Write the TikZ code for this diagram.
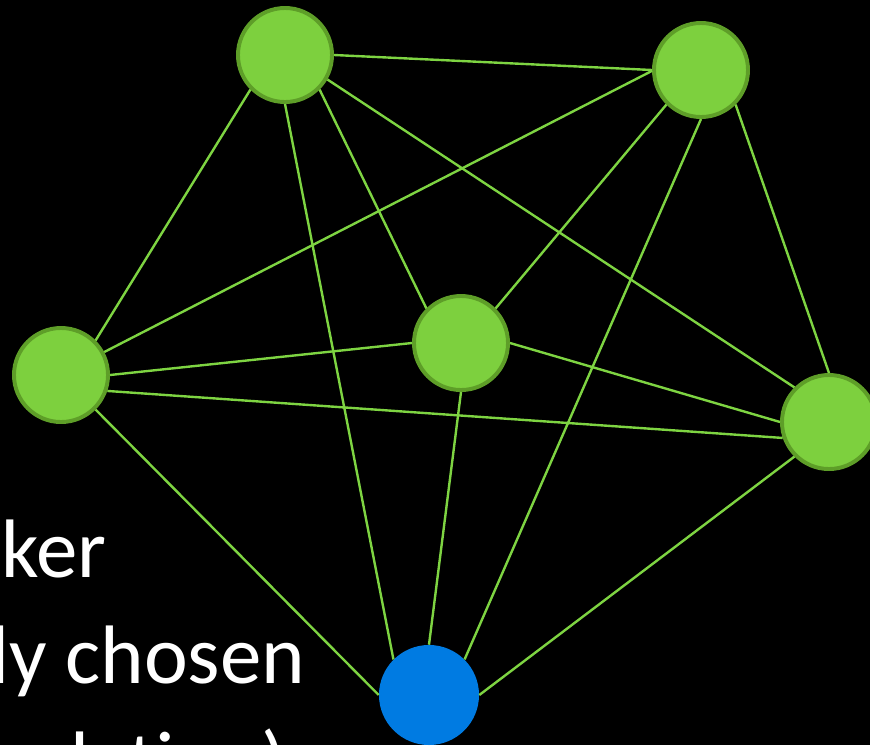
\documentclass[tikz,border=0pt]{standalone}
\usepackage{fontspec}
\setmainfont{Carlito}
\usetikzlibrary{positioning}

\definecolor{leafgreen}{RGB}{125,208,62}
\definecolor{rimgreen}{RGB}{94,158,40}
\definecolor{wiregreen}{RGB}{126,212,66}
\definecolor{pickblue}{RGB}{0,123,226}

\tikzset{
  worker/.style={draw=rimgreen, circle, fill=leafgreen, line width=2.8pt, minimum size=2.35cm, inner sep=0pt},
  chosen/.style={circle, fill=pickblue, minimum size=2.5cm, inner sep=0pt},
  wire/.style={wiregreen, line width=1.7pt},
  caption/.style={text=white, font=\fontsize{59}{70}\selectfont, anchor=base west, inner sep=0pt}
}

\begin{document}
\begin{tikzpicture}[x=0.025cm, y=-0.025cm]
\fill[black] (0,0) rectangle (870,745);
\clip (0,0) rectangle (870,745);

\node[worker] (A) at (285,55) {};
\node[worker] (B) at (701,70) {};
\node[worker] (C) at (61,375) {};
\node[worker] (D) at (461,343) {};
\node[worker] (E) at (829,422) {};
\node[chosen] (F) at (429,695) {};
%============
\node[caption] (l1) at (1,577) {ker};
\node[caption] (l2) at (-10,683) {ly chosen};
\node[caption] (l3) at (70,789) {lation)};
%==========

\draw[wire] (A.0) -- (B.180);
\draw[wire] (A.-135) -- (C.45);
\draw[wire] (A.-45) -- (D.135);
\draw[wire] (A.-30) -- (E.135);
\draw[wire] (A.-90) -- (F.135);
\draw[wire] (B.181) -- (C.28);
\draw[wire] (B.-135) -- (D.45);
\draw[wire] (B.-45) -- (E.90);
\draw[wire] (B.-90) -- (F.45);
\draw[wire] (C.0) -- (D.180);
\draw[wire] (C.-19) -- (E.-161);
\draw[wire] (C.-45) -- (F.180);
\draw[wire] (D.0) -- (E.180);
\draw[wire] (D.-90) -- (F.90);
\draw[wire] (E.-135) -- (F.0);
\end{tikzpicture}
\end{document}
